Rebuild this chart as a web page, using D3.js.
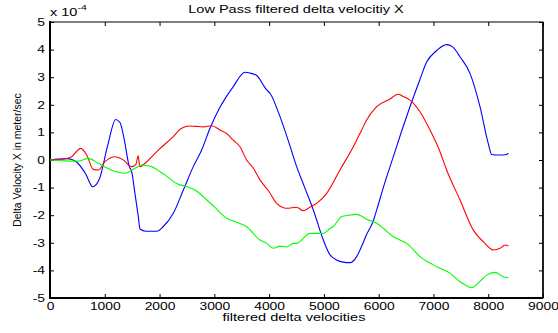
<!DOCTYPE html>
<html><head><meta charset="utf-8">
<script src="https://cdn.jsdelivr.net/npm/d3@7"></script>
<style>body{margin:0;background:#fff}svg{display:block}text{font-family:"Liberation Sans",Arial,sans-serif}</style>
</head><body><svg id="c" width="558" height="333"></svg>
<script>
const xTicks = [0,1000,2000,3000,4000,5000,6000,7000,8000,9000];
const yTicks = [-5,-4,-3,-2,-1,0,1,2,3,4,5];
const blueX = [0,150,300,400,500,650,780,900,1050,1200,1280,1350,1448,1491,1550,1612,1643,1750,1947,2068,2251,2434,2616,2769,2921,3100,3346,3560,3650,3773,3955,4016,4199,4350,4503,4650,4807,4990,5100,5233,5350,5477,5598,5659,5780,5903,5964,6100,6268,6420,6572,6750,6876,7050,7241,7350,7485,7667,7850,8000,8063,8200,8337,8367];
const blueY = [0,0.03,0.05,0.02,-0.1,-0.5,-0.97,-0.7,0.5,1.47,1.35,0.8,-0.24,-0.42,-1.2,-2.05,-2.5,-2.58,-2.58,-2.41,-1.93,-1.09,-0.24,0.36,1.15,1.9,2.66,3.18,3.15,3.06,2.54,2.42,1.57,0.7,-0.24,-1.0,-1.81,-2.9,-3.4,-3.62,-3.7,-3.72,-3.5,-3.26,-2.7,-2.2,-1.81,-0.9,0.12,1.05,1.93,2.9,3.55,3.95,4.18,4.1,3.74,3.14,1.93,0.6,0.2,0.18,0.2,0.25];
const redX = [0,200,396,480,560,670,791,882,1004,1187,1338,1491,1570,1600,1612,1625,1643,1734,1977,2221,2404,2556,2647,2799,2951,3103,3225,3346,3468,3590,3712,3833,4000,4138,4321,4503,4625,4750,4868,5051,5294,5537,5690,5781,5964,6200,6359,6450,6572,6754,6937,7100,7241,7485,7728,7910,8093,8215,8306,8367];
const redY = [0,0.02,0.12,0.3,0.42,0.18,-0.34,-0.36,-0.06,0.12,0,-0.24,-0.15,0.1,0.15,-0.05,-0.24,-0.12,0.36,0.79,1.15,1.23,1.22,1.2,1.24,1.09,0.96,0.72,0.48,0,-0.3,-0.72,-1.15,-1.57,-1.75,-1.71,-1.84,-1.7,-1.57,-1.21,-0.36,0.48,1.09,1.45,1.93,2.2,2.38,2.3,2.17,1.75,1.09,0.4,-0.36,-1.45,-2.54,-2.96,-3.26,-3.2,-3.08,-3.12];
const greenX = [0,250,517,700,882,1050,1187,1369,1552,1673,1856,2008,2099,2200,2313,2495,2647,2799,3000,3225,3400,3590,3833,3955,4077,4199,4320,4442,4503,4746,4990,5111,5172,5325,5450,5598,5700,5781,5964,6100,6268,6389,6511,6754,6998,7150,7302,7485,7600,7698,7850,7972,8123,8275,8367];
const greenY = [0,-0.03,-0.04,0.06,-0.12,-0.3,-0.42,-0.48,-0.3,-0.18,-0.24,-0.42,-0.54,-0.7,-0.85,-0.97,-1.09,-1.33,-1.7,-2.11,-2.25,-2.42,-2.9,-3.02,-3.2,-3.12,-3.15,-3.02,-3.02,-2.66,-2.66,-2.48,-2.41,-2.05,-2.0,-1.97,-2.05,-2.15,-2.29,-2.5,-2.78,-2.9,-3.02,-3.5,-3.8,-3.95,-4.1,-4.41,-4.55,-4.63,-4.4,-4.17,-4.07,-4.23,-4.26];

const svg = d3.select("#c");
const L=50,R=543,T=22,B=298;
const x = d3.scaleLinear().domain([0,9000]).range([L,R]);
const y = d3.scaleLinear().domain([-5,5]).range([B,T]);

const g = svg.append("g");
g.append("rect").attr("x",L).attr("y",T).attr("width",R-L).attr("height",B-T).attr("fill","none").attr("stroke","#000").attr("stroke-width",1);
g.append("line").attr("x1",L).attr("x2",L).attr("y1",T-1).attr("y2",B+1).attr("stroke","#000").attr("stroke-width",2);
g.append("line").attr("x1",L-1).attr("x2",R).attr("y1",B).attr("y2",B).attr("stroke","#000").attr("stroke-width",2);
g.append("line").attr("x1",R).attr("x2",R).attr("y1",T).attr("y2",B).attr("stroke","#000").attr("stroke-width",1.5);

const fmt = d=>String(d);
const axG = svg.append("g").attr("transform",`translate(0,${B})`).call(d3.axisBottom(x).tickValues(xTicks).tickSize(-4).tickPadding(5).tickFormat(fmt));
const axT = svg.append("g").attr("transform",`translate(0,${T})`).call(d3.axisTop(x).tickValues(xTicks).tickSize(-4).tickFormat(""));
const ayG = svg.append("g").attr("transform",`translate(${L},0)`).call(d3.axisLeft(y).tickValues(yTicks).tickSize(-4).tickPadding(5).tickFormat(fmt));
const ayR = svg.append("g").attr("transform",`translate(${R},0)`).call(d3.axisRight(y).tickValues(yTicks).tickSize(-4).tickFormat(""));
[axG,axT,ayG,ayR].forEach(a=>{a.select(".domain").remove();a.selectAll("line").attr("stroke","#000");a.selectAll("text").attr("font-size",10.5).attr("fill","#000").attr("font-family","Liberation Sans,Arial,sans-serif").classed("wide",true);});

const line = d3.line().x(d=>x(d[0])).y(d=>y(d[1])).curve(d3.curveMonotoneX);
const series = [[blueX,blueY,"#0000ff"],[redX,redY,"#ff0000"],[greenX,greenY,"#00ff00"]];
series.forEach(([xs,ys,c])=>{
  svg.append("path").datum(xs.map((v,i)=>[v,ys[i]])).attr("d",line).attr("fill","none").attr("stroke",c).attr("stroke-width",1.1);
});

svg.append("text").attr("class","wide").attr("x",296).attr("y",13).attr("text-anchor","middle").attr("font-size",11).text("Low Pass filtered delta velocitiy X");
svg.append("text").attr("class","wide").attr("x",294).attr("y",321).attr("text-anchor","middle").attr("font-size",11).text("filtered delta velocities");
svg.append("text").attr("transform","translate(21,160) rotate(-90)").attr("text-anchor","middle").attr("font-size",10.5).text("Delta Velocity X in meter/sec");
const ex = svg.append("text").attr("class","wide").attr("x",50).attr("y",16).attr("font-size",11);
ex.append("tspan").text("x 10");
ex.append("tspan").attr("dy",-6).attr("font-size",8).text("-4");

// horizontal stretch of glyphs, as in the reference rendering (horizontal texts only)
svg.selectAll("text.wide").each(function(){
  const w = this.getComputedTextLength();
  if (w > 0) d3.select(this).attr("textLength", w*1.32).attr("lengthAdjust","spacingAndGlyphs");
});
</script></body></html>
